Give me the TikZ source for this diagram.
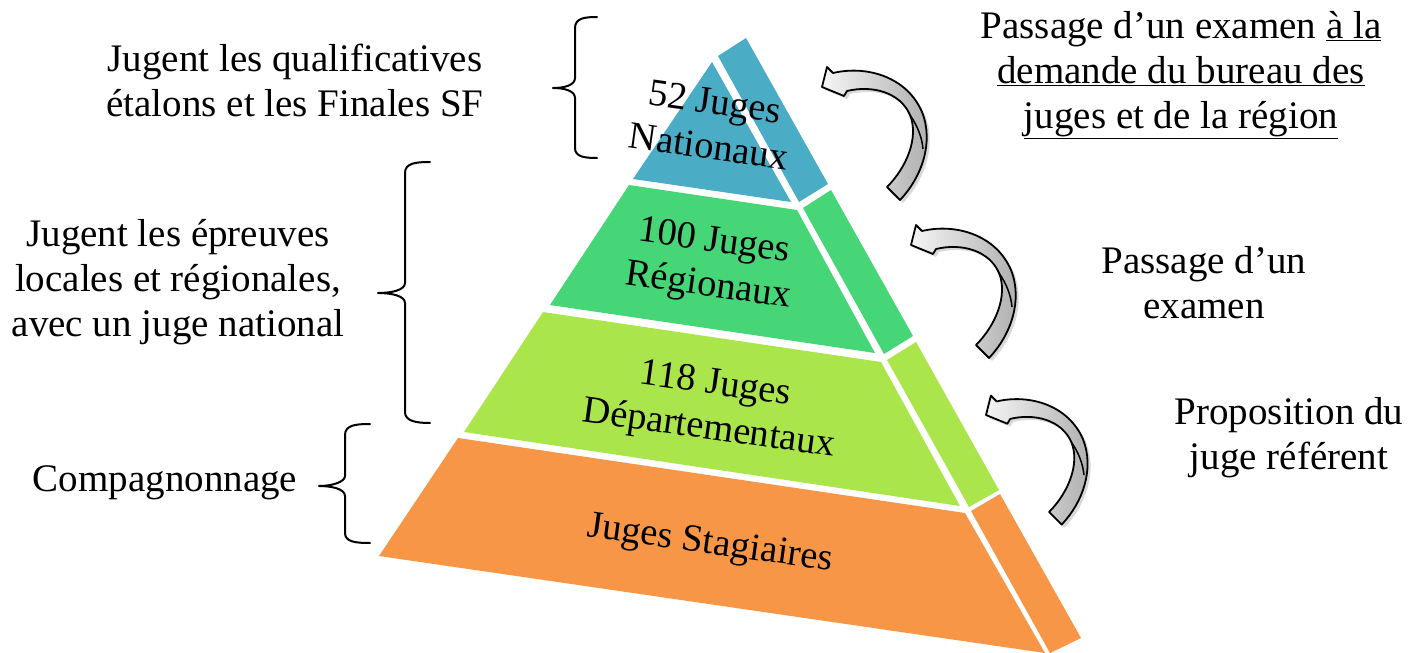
\documentclass[tikz,border=0pt]{standalone}
\usepackage{fontspec}
\setmainfont{Liberation Serif}
\usetikzlibrary{shadows}
\definecolor{cblue}{HTML}{4BACC6}
\definecolor{cgreen}{HTML}{46D577}
\definecolor{clime}{HTML}{AAE64B}
\definecolor{corange}{HTML}{F79646}
\begin{document}
\begin{tikzpicture}[x=1pt,y=-1pt,
  lbl/.style={font=\fontsize{39}{45}\selectfont, align=center, inner sep=0pt},
  tiertext/.style={font=\fontsize{38.5}{45}\selectfont, align=center, inner sep=0pt, rotate=-8},
  bracepath/.style={line width=2pt, line cap=round, line join=round},
  curvarrow/.style={draw=black, line width=1.8pt, line join=round,
     left color=gray!8, right color=gray!65,
     drop shadow={shadow xshift=3pt, shadow yshift=-3pt, opacity=0.3}},
  pics/bentarrow/.style={code={
     \path[curvarrow] (0,0) -- (5,-20) -- (11,-14)
        .. controls (45,-22) and (85,-10) .. (100,25)
        .. controls (112,55) and (100,90) .. (78,113)
        -- (65,100)
        .. controls (85,80) and (97,50) .. (88,28)
        .. controls (78,5) and (50,-2) .. (25,4)
        -- (22,9) -- cycle;
     \draw[line width=1.5pt] (88,28) .. controls (95,38) and (100,50) .. (101,62);
  }}
]
\useasboundingbox (0,0) rectangle (1409,653);
% pyramid tiers
\fill[cblue] (712,62) -- (791,202) -- (633,179) -- cycle;
\fill[cblue] (718,56) -- (746,38) -- (828,184) -- (799,202) -- cycle;
\fill[cgreen] (629,185) -- (797,210) -- (875,353) -- (550,305) -- cycle;
\fill[cgreen] (803,208) -- (831,190) -- (913,336) -- (884,354) -- cycle;
\fill[clime] (543,312) -- (881,362) -- (960,506) -- (464,432) -- cycle;
\fill[clime] (887,360) -- (916,342) -- (999,490) -- (969,507) -- cycle;
\fill[corange] (458,438) -- (965,513) -- (1045,653) -- (379,556) -- cycle;
\fill[corange] (971,511) -- (1000,494) -- (1081,638) -- (1050,653) -- cycle;
% tier texts
\node[tiertext] (t1) at (712,124) {52 Juges\\Nationaux};
\node[tiertext] (t2) at (711,265) {100 Juges\\Régionaux};
\node[tiertext] (t3) at (712,408) {118 Juges\\Départementaux};
\node[tiertext] (t4) at (710,545) {Juges Stagiaires};
% braces
\draw[bracepath] (597,17) .. controls (585,17) and (575,18) .. (575,28) -- (575,78)
  .. controls (575,85) and (565,88) .. (553,88) .. controls (565,88) and (575,91) .. (575,98)
  -- (575,148) .. controls (575,157) and (585,158) .. (597,158);
\draw[bracepath] (430,162) .. controls (416,162) and (405,163) .. (405,173) -- (405,283)
  .. controls (405,290) and (392,293) .. (378,293) .. controls (392,293) and (405,296) .. (405,303)
  -- (405,412) .. controls (405,421) and (416,423) .. (430,423);
\draw[bracepath] (370,424) .. controls (356,424) and (345,425) .. (345,435) -- (345,476)
  .. controls (345,482) and (332,486) .. (319,486) .. controls (332,486) and (345,489) .. (345,496)
  -- (345,533) .. controls (345,542) and (356,543) .. (370,543);
% labels
\node[lbl] (l1) at (295,80) {Jugent les qualificatives\\étalons et les Finales SF};
\node[lbl] (l2) at (178,282) {Jugent les épreuves\\locales et régionales,\\avec un juge national};
\node[lbl] (l3) at (165,483) {Compagnonnage};
\node[lbl] (r1) at (1181,75) {Passage d’un examen \underline{à la}\\\underline{demande du bureau des}\\\underline{juges et de la région}};
\node[lbl] (r2) at (1204,283) {Passage d’un\\examen};
\node[lbl] (r3) at (1289,438) {Proposition du\\juge référent};
% curved arrows
\pic at (822,87) {bentarrow};
\pic at (911,245) {bentarrow};
\pic[scale=0.97] at (986,415) {bentarrow};
\end{tikzpicture}
\end{document}
